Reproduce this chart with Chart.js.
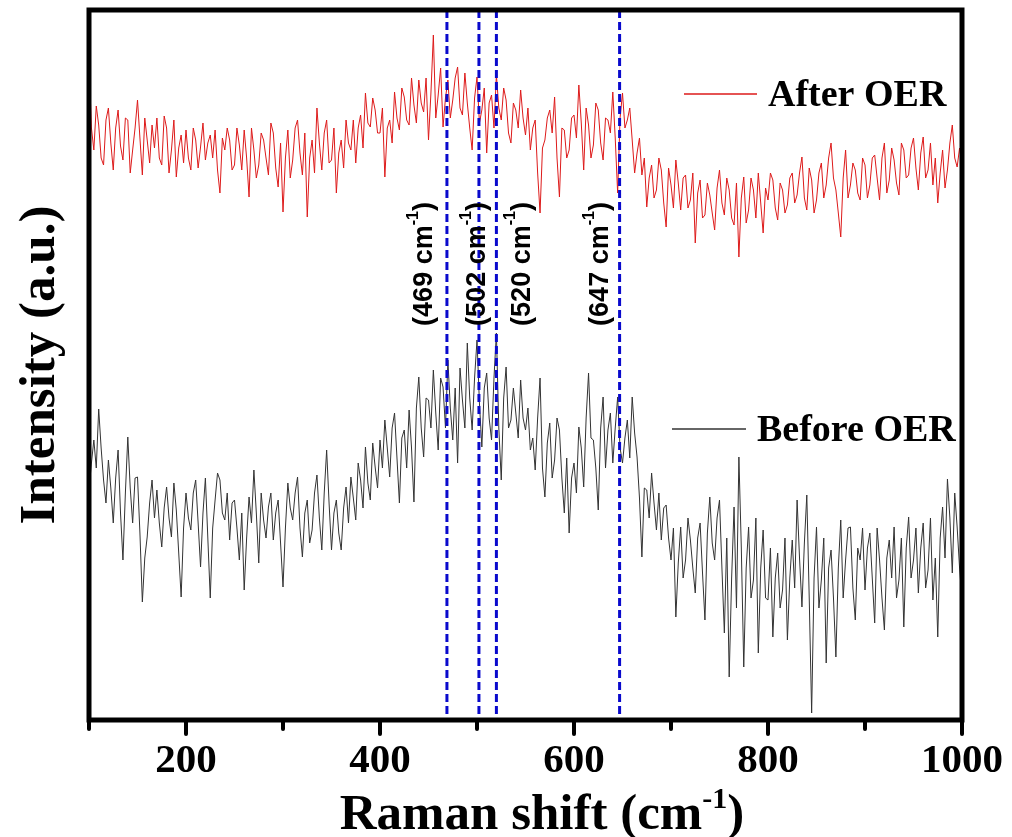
<!DOCTYPE html>
<html>
<head>
<meta charset="utf-8">
<script src="https://cdn.jsdelivr.net/npm/chart.js@4.4.0/dist/chart.umd.min.js"></script>
<style>
  html, body { margin: 0; padding: 0; background: #fff; }
  #wrap { width: 1012px; height: 837px; }
</style>
</head>
<body>
<div id="wrap"><canvas id="ramanChart" width="1012" height="837"></canvas></div>
<script>
// Raman shift (cm-1): main samples every 5 cm-1, plus the in-between samples
const ramanShift = [
  100,105,110,115,120,125,130,135,140,145,150,155,160,165,170,175,180,185,190,195,
  200,205,210,215,220,225,230,235,240,245,250,255,260,265,270,275,280,285,290,295,
  300,305,310,315,320,325,330,335,340,345,350,355,360,365,370,375,380,385,390,395,
  400,405,410,415,420,425,430,435,440,445,450,455,460,465,470,475,480,485,490,495,
  500,505,510,515,520,525,530,535,540,545,550,555,560,565,570,575,580,585,590,595,
  600,605,610,615,620,625,630,635,640,645,650,655,660,665,670,675,680,685,690,695,
  700,705,710,715,720,725,730,735,740,745,750,755,760,765,770,775,780,785,790,795,
  800,805,810,815,820,825,830,835,840,845,850,855,860,865,870,875,880,885,890,895,
  900,905,910,915,920,925,930,935,940,945,950,955,960,965,970,975,980,985,990,995,
  1000
];
const ramanShiftMid = [
  102.5,107.5,112.5,117.5,122.5,127.5,132.5,137.5,142.5,147.5,152.5,157.5,162.5,167.5,172.5,177.5,182.5,187.5,192.5,197.5,
  202.5,207.5,212.5,217.5,222.5,227.5,232.5,237.5,242.5,247.5,252.5,257.5,262.5,267.5,272.5,277.5,282.5,287.5,292.5,297.5,
  302.5,307.5,312.5,317.5,322.5,327.5,332.5,337.5,342.5,347.5,352.5,357.5,362.5,367.5,372.5,377.5,382.5,387.5,392.5,397.5,
  402.5,407.5,412.5,417.5,422.5,427.5,432.5,437.5,442.5,447.5,452.5,457.5,462.5,467.5,472.5,477.5,482.5,487.5,492.5,497.5,
  502.5,507.5,512.5,517.5,522.5,527.5,532.5,537.5,542.5,547.5,552.5,557.5,562.5,567.5,572.5,577.5,582.5,587.5,592.5,597.5,
  602.5,607.5,612.5,617.5,622.5,627.5,632.5,637.5,642.5,647.5,652.5,657.5,662.5,667.5,672.5,677.5,682.5,687.5,692.5,697.5,
  702.5,707.5,712.5,717.5,722.5,727.5,732.5,737.5,742.5,747.5,752.5,757.5,762.5,767.5,772.5,777.5,782.5,787.5,792.5,797.5,
  802.5,807.5,812.5,817.5,822.5,827.5,832.5,837.5,842.5,847.5,852.5,857.5,862.5,867.5,872.5,877.5,882.5,887.5,892.5,897.5,
  902.5,907.5,912.5,917.5,922.5,927.5,932.5,937.5,942.5,947.5,952.5,957.5,962.5,967.5,972.5,977.5,982.5,987.5,992.5,997.5
];

// intensity (a.u., curves stacked)
const afterOER = [
  656,568,593,553,610,548,608,558,598,568, 618,543,578,593,600,553,590,568,541,583,
  588,548,578,571,558,583,588,525,568,578, 553,573,588,521,568,553,578,543,585,531,
  506,588,558,598,543,501,578,610,548,598, 558,525,578,598,568,555,603,625,591,608,
  585,541,598,626,588,621,593,613,638,606, 578,683,623,591,638,618,651,603,615,568,
  641,608,565,623,643,598,618,575,608,628, 583,568,598,505,578,608,621,521,588,568,
  603,633,548,593,573,608,558,598,626,525, 625,598,578,565,543,511,553,528,548,491,
  533,558,508,543,518,475,538,503,523,488, 548,503,528,493,461,541,508,528,545,485,
  518,538,498,528,513,545,523,561,508,538, 518,555,533,575,528,481,568,533,548,518,
  553,533,563,518,575,538,558,523,568,543, 580,528,581,548,533,515,568,548,593,551,
  553
];
const afterOERMid = [
  590,612,560,598,575,590,572,600,545,590, 580,600,555,570,560,602,545,598,570,555,
  560,590,550,595,575,560,548,580,590,548, 590,548,560,590,540,585,560,595,550,575,
  560,540,590,565,585,560,545,575,585,555, 590,565,550,575,598,590,570,595,620,585,
  610,590,575,600,630,598,640,595,615,640, 625,600,650,620,600,640,610,645,590,620,
  595,630,615,590,610,630,585,615,590,600, 610,590,545,570,600,585,560,590,560,600,
  580,595,610,560,615,575,600,585,580,600, 590,610,545,580,560,540,520,560,515,550,
  510,535,540,510,545,525,500,535,505,530, 515,540,500,535,520,495,540,500,515,530,
  545,510,535,505,540,515,545,520,550,505, 545,520,560,540,505,540,520,555,525,560,
  520,560,540,560,525,570,535,575,540,570, 550,565,540,575,560,545,530,575,560,570
];

const beforeOER = [
  228,278,309,238,258,195,268,158,281,195, 241,116,181,238,228,171,231,181,208,121,
  225,188,238,151,240,120,218,238,198,178, 218,158,128,221,248,155,198,211,178,218,
  131,235,198,241,161,218,188,243,168,268, 168,218,168,231,241,198,238,271,218,251,
  278,298,241,305,215,288,308,216,341,261, 318,348,268,331,358,278,255,318,375,288,
  378,271,345,278,385,238,351,298,305,338, 288,268,248,340,221,295,258,288,205,185,
  255,291,231,345,278,208,321,288,255,321, 255,298,321,261,161,228,245,188,178,213,
  158,101,191,158,178,125,195,98,221,158, 218,85,41,211,261,51,191,138,65,188,
  118,81,165,128,78,178,218,111,223,5, 191,138,55,168,61,198,158,191,98,158,
  128,185,95,158,88,178,191,138,91,201, 158,125,195,148,118,81,211,239,145,191,
  118
];
const beforeOERMid = [
  255,250,270,215,230,240,205,225,230,240, 185,160,215,200,195,210,200,235,165,190,
  200,225,195,205,180,190,245,205,225,215, 190,205,180,195,205,225,180,225,205,175,
  190,210,225,190,205,175,225,200,225,215, 205,185,210,195,220,255,210,235,275,230,
  250,270,290,260,280,250,270,310,290,320, 290,305,340,290,310,330,350,290,320,340,
  315,330,300,340,290,320,290,330,280,300, 310,280,300,250,275,240,300,240,260,240,
  225,270,300,280,250,290,250,305,290,270, 280,260,285,220,230,200,215,225,210,180,
  190,155,140,200,150,180,145,185,175,200, 150,180,140,110,170,150,120,200,150,120,
  170,140,110,180,140,130,160,175,120,140, 110,180,150,120,150,120,190,130,170,190,
  170,140,190,120,160,140,120,180,170,140, 190,170,130,200,160,180,160,200,225,150
];

const peakPositions = [469, 502, 520, 647];
const seriesNames = ['After OER', 'Before OER'];

const serif = "'Liberation Serif', 'Times New Roman', Times, serif";
const sans = "'Liberation Sans', Arial, Helvetica, sans-serif";

function toPoints(ys, ysMid) {
  const pts = ramanShift.map((x, i) => ({ x: x, y: ys[i] }))
    .concat(ramanShiftMid.map((x, i) => ({ x: x, y: ysMid[i] })));
  return pts.sort((a, b) => a.x - b.x);
}

// text followed by a small raised "-1" and a closing bracket
function drawWithSup(ctx, main, sup, tail, x, y, size, supSize, family) {
  ctx.font = 'bold ' + size + 'px ' + family;
  const w1 = ctx.measureText(main).width;
  const w3 = ctx.measureText(tail).width;
  ctx.font = 'bold ' + supSize + 'px ' + family;
  const w2 = ctx.measureText(sup).width;
  const start = x - (w1 + w2 + w3) / 2;
  ctx.textAlign = 'left';
  ctx.font = 'bold ' + size + 'px ' + family;
  ctx.fillText(main, start, y);
  ctx.font = 'bold ' + supSize + 'px ' + family;
  ctx.fillText(sup, start + w1, y - size * 0.42);
  ctx.font = 'bold ' + size + 'px ' + family;
  ctx.fillText(tail, start + w1 + w2, y);
}

const decorPlugin = {
  id: 'decor',
  afterDraw(chart) {
    const { ctx, chartArea: a, scales: { x } } = chart;
    ctx.save();

    // peak marker lines
    ctx.strokeStyle = '#0a0acc';
    ctx.lineWidth = 3;
    ctx.setLineDash([8, 4]);
    peakPositions.forEach(p => {
      const px = x.getPixelForValue(p);
      ctx.beginPath();
      ctx.moveTo(px, a.top);
      ctx.lineTo(px, a.bottom);
      ctx.stroke();
    });
    ctx.setLineDash([]);

    // frame
    ctx.strokeStyle = '#000';
    ctx.lineWidth = 5;
    ctx.strokeRect(a.left, a.top, a.right - a.left, a.bottom - a.top);

    // ticks, major every 200, minor in between
    ctx.lineWidth = 4;
    ctx.lineCap = 'round';
    x.ticks.forEach(t => {
      const px = x.getPixelForValue(t.value);
      const len = t.value % 200 === 0 ? 14 : 9;
      ctx.beginPath();
      ctx.moveTo(px, a.bottom);
      ctx.lineTo(px, a.bottom + len);
      ctx.stroke();
    });

    // rotated peak labels
    const offsets = [-22, -1, 26, -19];
    ctx.fillStyle = '#000';
    ctx.textBaseline = 'middle';
    peakPositions.forEach((p, i) => {
      const px = x.getPixelForValue(p) + offsets[i];
      ctx.save();
      ctx.translate(px, 264);
      ctx.rotate(-Math.PI / 2);
      drawWithSup(ctx, '(' + p + ' cm', '-1', ')', 0, 0, 27, 16, sans);
      ctx.restore();
    });

    // legend entries
    const legend = [
      { name: seriesNames[0], color: chart.data.datasets[0].borderColor, x0: 684, x1: 757, y: 94 },
      { name: seriesNames[1], color: chart.data.datasets[1].borderColor, x0: 672, x1: 746, y: 429 }
    ];
    ctx.textBaseline = 'alphabetic';
    ctx.textAlign = 'left';
    legend.forEach(l => {
      ctx.strokeStyle = l.color;
      ctx.lineWidth = 1.5;
      ctx.lineCap = 'butt';
      ctx.beginPath();
      ctx.moveTo(l.x0, l.y);
      ctx.lineTo(l.x1, l.y);
      ctx.stroke();
      ctx.fillStyle = '#000';
      ctx.font = 'bold 38px ' + serif;
      ctx.fillText(l.name, l.x1 + 11, l.y + 12);
    });

    // x axis title
    ctx.fillStyle = '#000';
    drawWithSup(ctx, 'Raman shift (cm', '-1', ')', 542, 829, 51, 30, serif);

    ctx.restore();
  }
};

new Chart(document.getElementById('ramanChart'), {
  type: 'line',
  data: {
    datasets: [
      { label: seriesNames[0], data: toPoints(afterOER, afterOERMid), borderColor: '#dd1a1a', borderWidth: 1, pointRadius: 0, tension: 0 },
      { label: seriesNames[1], data: toPoints(beforeOER, beforeOERMid), borderColor: '#333333', borderWidth: 1, pointRadius: 0, tension: 0 }
    ]
  },
  options: {
    responsive: false,
    animation: false,
    layout: { padding: { top: 10, right: 49, left: 0, bottom: 0 } },
    plugins: { legend: { display: false }, tooltip: { enabled: false } },
    scales: {
      x: {
        type: 'linear',
        min: 100,
        max: 1000,
        afterFit: s => { s.height = 117; },
        grid: { display: false },
        border: { display: false },
        ticks: {
          stepSize: 100,
          autoSkip: false,
          maxRotation: 0,
          padding: 9,
          color: '#000',
          font: { family: serif, size: 41, weight: 'bold' },
          callback: v => (v % 200 === 0 ? v : '')
        }
      },
      y: {
        min: -2,
        max: 708,
        afterFit: s => { s.width = 89; },
        grid: { display: false },
        border: { display: false },
        ticks: { display: false },
        title: {
          display: true,
          text: 'Intensity (a.u.)',
          color: '#000',
          padding: { top: 10, bottom: 0 },
          font: { family: serif, size: 51, weight: 'bold' }
        }
      }
    }
  },
  plugins: [decorPlugin]
});
</script>
</body>
</html>
